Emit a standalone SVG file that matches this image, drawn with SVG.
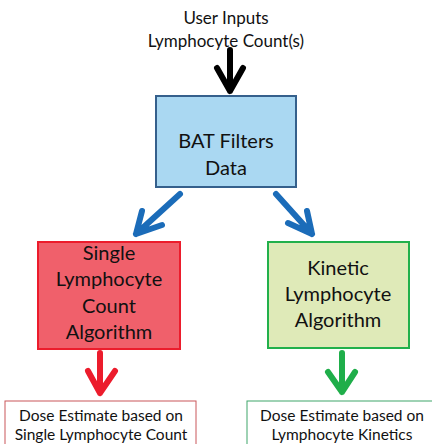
<svg xmlns="http://www.w3.org/2000/svg" width="432" height="444" viewBox="0 0 432 444">
<style>
text{font-family:Lato,"Liberation Sans",sans-serif;fill:#111;text-anchor:middle}
.t{font-size:17px}
.b{font-size:20px}
.s{font-size:15.5px}
.arr{fill:none;stroke-width:6;stroke-linecap:round;stroke-linejoin:round}
</style>
<rect width="432" height="444" fill="#fff"/>
<g id="input">
<text class="t" x="226" y="24">User Inputs</text>
<text class="t" x="226" y="47">Lymphocyte Count(s)</text>
</g>
<g id="bat">
<rect x="156" y="96" width="140" height="91" fill="#aad8f2" stroke="#35608c" stroke-width="2"/>
<text class="b" x="226" y="148">BAT Filters</text>
<text class="b" x="226" y="175">Data</text>
</g>
<g id="single">
<rect x="38" y="242" width="142" height="107" fill="#f0606b" stroke="#ec1c2c" stroke-width="2"/>
<text class="b" x="109" y="260">Single</text>
<text class="b" x="109" y="286">Lymphocyte</text>
<text class="b" x="109" y="313">Count</text>
<text class="b" x="109" y="339">Algorithm</text>
</g>
<g id="kinetic">
<rect x="268" y="242" width="141" height="106" fill="#dfeab8" stroke="#22b04b" stroke-width="2"/>
<text class="b" x="338" y="275">Kinetic</text>
<text class="b" x="338" y="301">Lymphocyte</text>
<text class="b" x="338" y="327">Algorithm</text>
</g>
<g id="doseSingle">
<rect x="5" y="401" width="191" height="50" fill="#fff" stroke="#c9575a" stroke-width="1"/>
<text class="s" x="101" y="421">Dose Estimate based on</text>
<text class="s" x="101" y="440">Single Lymphocyte Count</text>
</g>
<g id="doseKinetic">
<rect x="247" y="401" width="200" height="50" fill="#fff" stroke="#3fa56a" stroke-width="1"/>
<text class="s" x="342" y="421">Dose Estimate based on</text>
<text class="s" x="342" y="440">Lymphocyte Kinetics</text>
</g>
<g id="connectors">
<path class="arr" stroke="#000" d="M230 50V91M217 68L230 91L243 68"/>
<path class="arr" stroke="#1b6cb9" d="M180 194L136 234M142 211L136 234L162 225"/>
<path class="arr" stroke="#1b6cb9" d="M276 194L312 234M307 211L312 234L288 223"/>
<path class="arr" stroke="#ec1c2c" d="M100 353V393M88 371L100 393L115 371"/>
<path class="arr" stroke="#1fae4a" d="M342 353V392M328 372L342 392L355 372"/>
</g>
</svg>
